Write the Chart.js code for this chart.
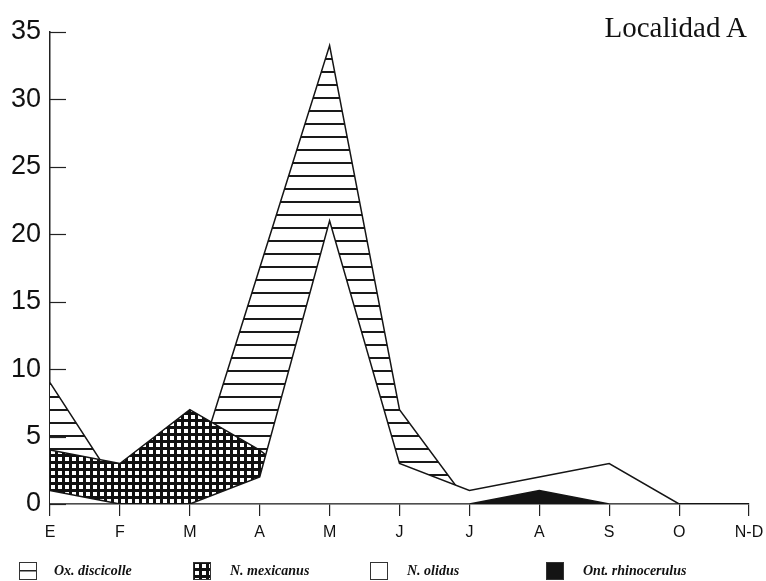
<!DOCTYPE html>
<html>
<head>
<meta charset="utf-8">
<script src="https://cdn.jsdelivr.net/npm/chart.js@4.4.0/dist/chart.umd.min.js"></script>
<style>
  html, body { margin: 0; padding: 0; background: #fff; }
  #wrap { position: relative; width: 766px; height: 581px; }
  #title {
    position: absolute; right: 19px; top: 13px; line-height: 29px;
    font-family: 'Liberation Serif', serif; font-size: 29px; color: #111;
  }
  .leg { position: absolute; top: 562px; height: 18px; }
  .leg canvas { position: absolute; left: 0; top: 0; }
  .leg span {
    position: absolute; top: 0; line-height: 18px; white-space: nowrap;
    font-family: 'Liberation Serif', serif; font-style: italic; font-weight: bold;
    font-size: 14px; color: #111;
  }
</style>
</head>
<body>
<div id="wrap">
  <canvas id="chart" width="766" height="581"></canvas>
  <div id="title">Localidad A</div>
</div>
<script>
// meses (E ... N-D)
const months = ['E', 'F', 'M', 'A', 'M', 'J', 'J', 'A', 'S', 'O', 'N-D'];
const seriesNames = ['Ox. discicolle', 'N. mexicanus', 'N. olidus', 'Ont. rhinocerulus'];

// valores (areas superpuestas, no apiladas)
const oxDiscicolle    = [9, 1, 1, 17.5, 34, 7, 0, 0, 0, 0, 0];
const nMexicanus      = [4, 3, 7, 4, 0, 0, 0, 0, 0, 0, 0];
const nOlidus         = [1, 0, 0, 2, 21, 3, 1, 2, 3, 0, 0];
const ontRhinocerulus = [0, 0, 0, 0, 0, 0, 0, 1, 0, 0, 0];

const yTicks = [0, 5, 10, 15, 20, 25, 30, 35];

// tramas
function makeTile(w, h, draw) {
    const c = document.createElement('canvas');
    c.width = w; c.height = h;
    draw(c.getContext('2d'));
    return c;
}
const stripeTile = makeTile(8, 13, g => {
    g.fillStyle = '#fff'; g.fillRect(0, 0, 8, 13);
    g.fillStyle = '#1a1a1a'; g.fillRect(0, 6, 8, 2);
});
const gridTile = makeTile(7, 7, g => {
    g.fillStyle = '#111'; g.fillRect(0, 0, 7, 7);
    g.fillStyle = '#fff'; g.fillRect(2, 2, 4, 4);
});
const ctx = document.getElementById('chart').getContext('2d');
const stripes = ctx.createPattern(stripeTile, 'repeat');
const grid = ctx.createPattern(gridTile, 'repeat');

const fills = [stripes, grid, '#ffffff', '#141414'];
const values = [oxDiscicolle, nMexicanus, nOlidus, ontRhinocerulus];
const drawOrder = [3, 2, 1, 0]; // rhinocerulus delante, discicolle al fondo

// marcas del eje Y hacia adentro
const innerTicks = {
    id: 'innerTicks',
    afterDraw(chart) {
        const y = chart.scales.y;
        const c = chart.ctx;
        c.save();
        c.strokeStyle = '#222';
        c.lineWidth = 1.2;
        yTicks.forEach(v => {
            const py = Math.round(y.getPixelForValue(v)) + 0.5;
            c.beginPath();
            c.moveTo(y.right, py);
            c.lineTo(y.right + 16, py);
            c.stroke();
        });
        c.restore();
    }
};

new Chart(ctx, {
    type: 'line',
    data: {
        labels: months,
        datasets: seriesNames.map((name, i) => ({
            label: name,
            data: values[i],
            backgroundColor: fills[i],
            borderColor: '#151515',
            borderWidth: 1.5,
            fill: 'origin',
            order: drawOrder[i],
            pointRadius: 0,
            tension: 0
        }))
    },
    options: {
        responsive: false,
        animation: false,
        layout: { padding: { top: 32, right: 17, left: 0, bottom: 0 } },
        plugins: {
            legend: { display: false },
            tooltip: { enabled: false },
            title: { display: false }
        },
        scales: {
            x: {
                type: 'category',
                offset: false,
                grid: { display: true, drawOnChartArea: false, drawTicks: true, tickLength: 12, color: '#222', lineWidth: 1.2 },
                border: { display: true, color: '#222', width: 1.5 },
                ticks: {
                    color: '#111', padding: 7, maxRotation: 0, autoSkip: false,
                    font: { family: 'Liberation Sans', size: 16 }
                },
                afterFit(s) {
                    s.height = 77;
                    s.paddingLeft = 0;
                    s.paddingRight = 0;
                }
            },
            y: {
                min: 0,
                max: 35,
                afterBuildTicks(s) { s.ticks = yTicks.map(v => ({ value: v })); },
                grid: { display: false, drawTicks: false },
                border: { display: true, color: '#222', width: 1.5 },
                ticks: {
                    color: '#111', padding: 9,
                    font: { family: 'Liberation Sans', size: 27 }
                },
                afterFit(s) { s.width = 50; }
            }
        }
    },
    plugins: [innerTicks]
});

// leyenda
const legLeft = [19, 193, 370, 546];
const wrap = document.getElementById('wrap');
seriesNames.forEach((name, i) => {
    const item = document.createElement('div');
    item.className = 'leg';
    item.style.left = legLeft[i] + 'px';
    const box = document.createElement('canvas');
    box.width = 18; box.height = 18;
    const b = box.getContext('2d');
    if (i === 0) {
        b.fillStyle = '#fff'; b.fillRect(0, 0, 18, 18);
        b.fillStyle = '#222'; b.fillRect(0, 8, 18, 1.5);
    } else {
        b.fillStyle = i === 1 ? b.createPattern(gridTile, 'repeat') : fills[i];
        b.fillRect(0, 0, 18, 18);
    }
    b.strokeStyle = '#333'; b.lineWidth = 1;
    b.strokeRect(0.5, 0.5, 17, 17);
    const txt = document.createElement('span');
    txt.style.left = (i === 0 ? 35 : 37) + 'px';
    txt.textContent = name;
    item.appendChild(box);
    item.appendChild(txt);
    wrap.appendChild(item);
});
</script>
</body>
</html>
